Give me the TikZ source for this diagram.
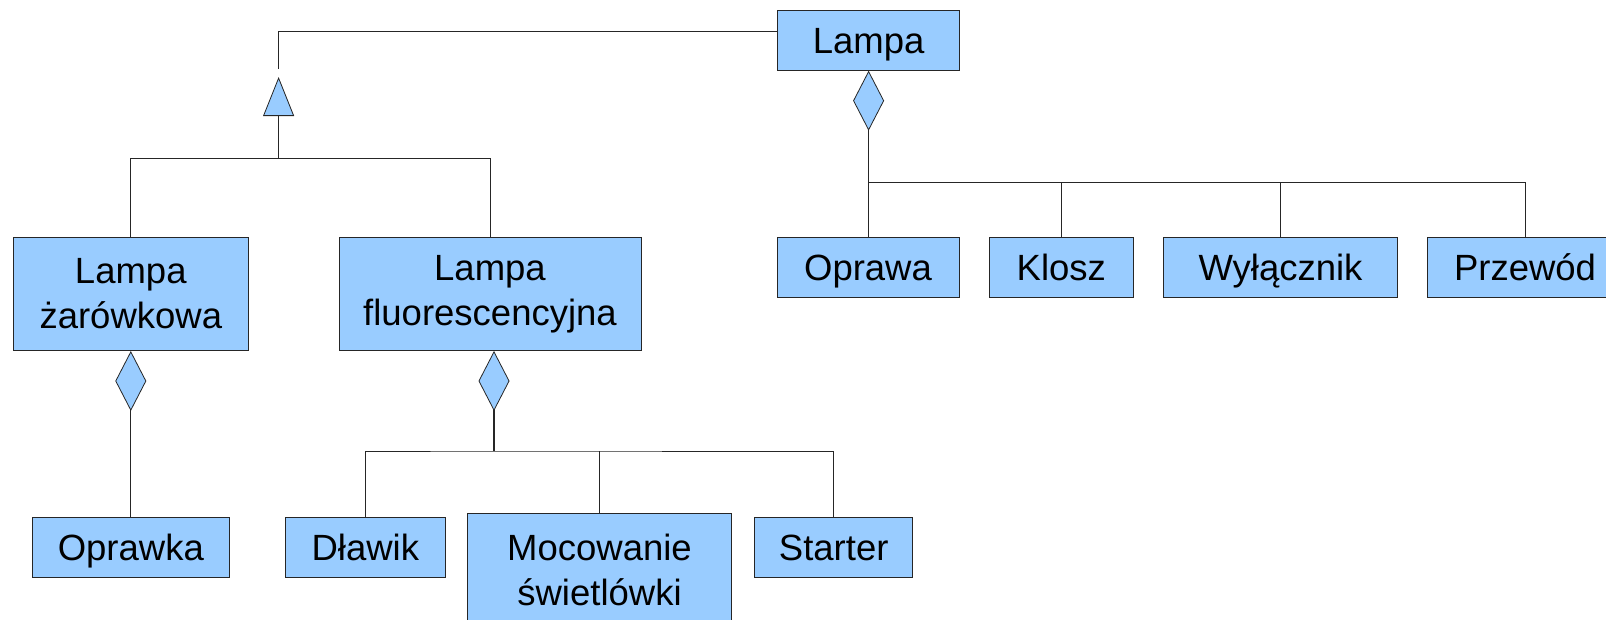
\documentclass[tikz,border=0pt]{standalone}
\usepackage{fontspec}
\setmainfont{Liberation Sans}
\usetikzlibrary{arrows.meta}
\definecolor{lampblue}{HTML}{99CCFF}

\tikzset{
  pudelko/.style={draw=black!85, fill=lampblue, line width=1pt, inner sep=0pt,
    align=center, font=\fontsize{36.5}{45}\selectfont},
  klasa/.style={pudelko, minimum height=60pt, text height=33pt, text depth=6pt},
  klasa2/.style={pudelko, minimum height=113pt},
  lacz/.style={draw=black!85, line width=0.9pt},
  sklad/.style={lacz, {Diamond[width=31pt,length=60pt,fill=lampblue,line width=0.8pt]}-},
  dziedz/.style={lacz, -{Triangle[width=31pt,length=39pt,fill=lampblue,line width=0.8pt]}},
}

\begin{document}
\begin{tikzpicture}[x=1pt,y=-1pt]
    \useasboundingbox (0,0) rectangle (1606,619);
    % Klasy
    \node[klasa, minimum width=182.7pt] (lampa) at (868.6,40.2) {Lampa};
    \node[klasa, minimum width=182pt] (oprawa) at (868,267) {Oprawa};
    \node[klasa, minimum width=143.5pt] (klosz) at (1061.3,267) {Klosz};
    \node[klasa, minimum width=234pt] (wylacznik) at (1280.5,267) {Wyłącznik};
    \node[klasa, minimum width=196pt] (przewod) at (1525,267) {Przewód};
    \node[klasa2, minimum width=234.5pt] (zarowkowa) at (130.8,294) {Lampa\\żarówkowa};
    \node[klasa2, minimum width=302pt] (fluor) at (490,294) {Lampa\\fluorescencyjna};
    \node[klasa, minimum width=197pt] (oprawka) at (130.8,547) {Oprawka};
    \node[klasa, minimum width=160.5pt] (dlawik) at (365.3,547) {Dławik};
    \node[klasa2, minimum width=264pt] (mocowanie) at (599.5,570) {Mocowanie\\świetlówki};
    \node[klasa, minimum width=158.5pt] (starter) at (833.7,547) {Starter};

    % Dziedziczenie
    \coordinate (wezelA) at (278.6,158.7);
    \coordinate (grot) at (278.6,77);
    \draw[lacz] (zarowkowa.north) |- (wezelA) -| (fluor.north);
    \draw[dziedz] (wezelA) -- (grot);
    \draw[lacz, shorten <=8pt] (grot) |- ([yshift=9pt]lampa.west);

    % Kompozycja: Lampa
    \coordinate (wezelB) at (868.6,182.3);
    \draw[sklad, line width=1.6pt] (lampa.south) -- (wezelB);
    \draw[lacz] (oprawa.north) |- (wezelB) -| (przewod.north);
    \foreach \nazwa in {klosz,wylacznik}
        \draw[lacz] (\nazwa.north) -- (\nazwa.north |- wezelB);

    % Kompozycja: lampa żarówkowa
    \draw[sklad] (zarowkowa.south) -- (oprawka.north);

    % Kompozycja: lampa fluorescencyjna
    \coordinate (wezelC) at (494,451);
    \draw[sklad, line width=1.6pt] ([xshift=4pt]fluor.south) -- (wezelC);
    \draw[lacz] (dlawik.north) |- (wezelC) -| (starter.north);
    \draw[lacz] (mocowanie.north) -- (mocowanie.north |- wezelC);
\end{tikzpicture}
\end{document}
